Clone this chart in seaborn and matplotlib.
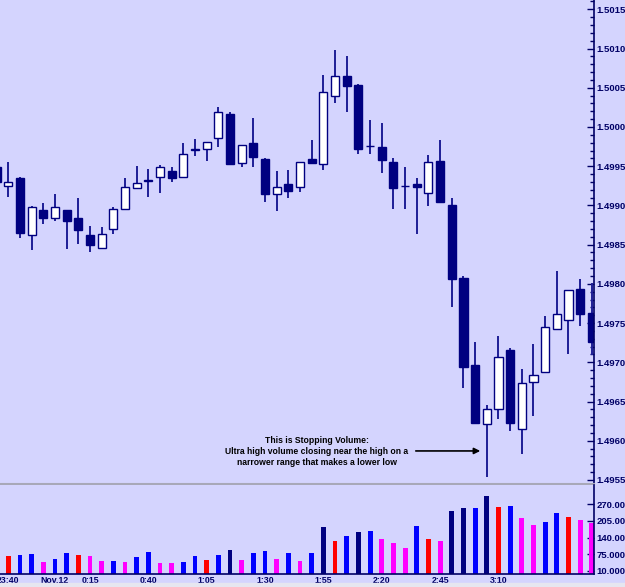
import matplotlib
matplotlib.use("Agg")
import numpy as np
import pandas as pd
import matplotlib.pyplot as plt
from matplotlib.ticker import MultipleLocator, FormatStrFormatter, FixedLocator
import seaborn as sns

# ---- data: 5-minute bars, index 0 = 23:40 ----
bar_idx = list(range(-1, 51))
opens = [1.49949, 1.49925, 1.49935, 1.49862, 1.49894, 1.49884, 1.49894, 1.49884, 1.49862, 1.49846,
         1.49870, 1.49896, 1.49922, 1.49931, 1.49936, 1.49944, 1.49936, 1.49971, 1.49972, 1.49986,
         1.50016, 1.49954, 1.49979, 1.49959, 1.49915, 1.49927, 1.49923, 1.49959, 1.49953, 1.50040,
         1.50065, 1.50054, 1.49976, 1.49975, 1.49956, 1.49925, 1.49927, 1.49916, 1.49957, 1.49901,
         1.49807, 1.49697, 1.49621, 1.49640, 1.49716, 1.49615, 1.49675, 1.49688, 1.49742, 1.49754,
         1.49793, 1.49763]
closes = [1.49930, 1.49930, 1.49865, 1.49898, 1.49884, 1.49898, 1.49880, 1.49869, 1.49850, 1.49864,
          1.49895, 1.49924, 1.49929, 1.49932, 1.49949, 1.49935, 1.49966, 1.49972, 1.49981, 1.50019,
          1.49953, 1.49977, 1.49962, 1.49914, 1.49923, 1.49918, 1.49956, 1.49954, 1.50045, 1.50065,
          1.50052, 1.49972, 1.49976, 1.49958, 1.49922, 1.49925, 1.49923, 1.49955, 1.49904, 1.49806,
          1.49694, 1.49623, 1.49641, 1.49707, 1.49622, 1.49674, 1.49684, 1.49745, 1.49762, 1.49792,
          1.49762, 1.49726]
highs = [1.49958, 1.49955, 1.49936, 1.49899, 1.49903, 1.49914, 1.49894, 1.49909, 1.49874, 1.49872,
         1.49898, 1.49935, 1.49950, 1.49946, 1.49952, 1.49949, 1.49979, 1.49985, 1.49981, 1.50025,
         1.50019, 1.49977, 1.50012, 1.49960, 1.49944, 1.49945, 1.49956, 1.49983, 1.50066, 1.50098,
         1.50090, 1.50055, 1.50009, 1.50005, 1.49960, 1.49949, 1.49935, 1.49964, 1.49983, 1.49909,
         1.49810, 1.49726, 1.49646, 1.49734, 1.49718, 1.49692, 1.49723, 1.49759, 1.49817, 1.49792,
         1.49806, 1.49801]
lows = [1.49926, 1.49911, 1.49859, 1.49843, 1.49876, 1.49880, 1.49844, 1.49851, 1.49841, 1.49845,
        1.49864, 1.49895, 1.49921, 1.49911, 1.49916, 1.49930, 1.49935, 1.49963, 1.49957, 1.49975,
        1.49951, 1.49949, 1.49949, 1.49904, 1.49893, 1.49910, 1.49917, 1.49954, 1.49945, 1.50030,
        1.50019, 1.49966, 1.49965, 1.49941, 1.49896, 1.49896, 1.49863, 1.49899, 1.49904, 1.49771,
        1.49667, 1.49623, 1.49554, 1.49628, 1.49612, 1.49583, 1.49631, 1.49688, 1.49742, 1.49710,
        1.49746, 1.49709]

vol_idx = list(range(0, 51))
volumes = [68, 72, 76, 45, 57, 79, 72, 68, 48, 49,
           45, 66, 83, 42, 42, 45, 67, 54, 72, 91,
           53, 80, 88, 58, 78, 48, 79, 183, 126, 145,
           163, 166, 134, 117, 100, 185, 134, 126, 244, 255,
           256, 301, 261, 262, 218, 190, 200, 237, 221, 209,
           197]
# r = red, b = blue, n = navy, m = magenta
vol_kind = list("rbbmbbrmmbmbbmmbbrbnmbbmbmbnrbnbmmmbrmnnbnrbmmbbrmm")

time_ticks = [0, 4, 7, 12, 17, 22, 27, 32, 37, 42]
time_labels = ["23:40", "Nov.12", "0:15", "0:40", "1:05", "1:30", "1:55", "2:20", "2:45", "3:10"]
vol_ticks = [10, 75, 140, 205, 270]

note = ("This is Stopping Volume:\n"
        "Ultra high volume closing near the high on a\n"
        "narrower range that makes a lower low")

# ---- style ----
BG = "#d4d4fe"
NAVY = "#000080"
AXC = "#000066"
sns.set_style("white")
plt.rcParams["font.family"] = ["Liberation Sans", "DejaVu Sans"]

W, H = 625, 587
fig = plt.figure(figsize=(W / 100, H / 100), dpi=100, facecolor=BG)
ax_p = fig.add_axes([0, 1 - 483.5 / H, 594 / W, 483.5 / H])
ax_v = fig.add_axes([0, 1 - 573.5 / H, 594 / W, 89 / H])

# ---- price candles ----
df = pd.DataFrame({"i": bar_idx, "o": opens, "c": closes, "h": highs, "l": lows})
df["up"] = df["c"] >= df["o"]
ax_p.vlines(df["i"], df["l"], df["h"], color="#1e1e96", lw=1.4, zorder=1)
up = df[df["up"]]
dn = df[~df["up"]]
ax_p.bar(up["i"], up["c"] - up["o"], bottom=up["o"], width=0.7,
         color="white", edgecolor=NAVY, lw=1.0, zorder=2)
ax_p.bar(dn["i"], dn["c"] - dn["o"], bottom=dn["o"], width=0.7,
         color=NAVY, edgecolor=NAVY, lw=1.0, zorder=2)

ax_p.set_facecolor(BG)
ax_p.set_xlim(-0.711, 50.19)
ax_p.set_ylim(1.495455, 1.501619)
ax_p.yaxis.tick_right()
ax_p.yaxis.set_major_locator(MultipleLocator(0.0005))
ax_p.yaxis.set_minor_locator(MultipleLocator(0.0001))
ax_p.yaxis.set_major_formatter(FormatStrFormatter("%.5f"))
ax_p.tick_params(axis="y", which="major", direction="in", length=5, width=1, color=AXC,
                 labelsize=6.8, labelcolor=AXC, pad=2)
ax_p.tick_params(axis="y", which="minor", direction="in", length=3, width=1, color=AXC)
for lab in ax_p.get_yticklabels():
    lab.set_fontweight("bold")
ax_p.set_xticks([])
for s in ["top", "left"]:
    ax_p.spines[s].set_visible(False)
ax_p.spines["right"].set_color(AXC)
ax_p.spines["right"].set_linewidth(1.2)
ax_p.spines["bottom"].set_color("#a8a8b8")
ax_p.spines["bottom"].set_linewidth(1.5)

ax_p.annotate("", xy=(40.68, 1.49587), xytext=(34.68, 1.49587),
              arrowprops=dict(arrowstyle="-|>", color="black", lw=1.2, mutation_scale=9))
ax_p.text(26.45, 1.49586, note, ha="center", va="center", multialignment="center",
          fontsize=6.2, fontweight="bold", color="black", linespacing=1.25)

# ---- volume ----
vdf = pd.DataFrame({"i": vol_idx, "vol": volumes, "kind": vol_kind})
palette = {"r": "#ff0000", "b": "#0000ff", "n": NAVY, "m": "#ff00ff"}
sns.barplot(data=vdf, x="i", y="vol", hue="kind", palette=palette, native_scale=True,
            dodge=False, width=0.42, saturation=1, errorbar=None, legend=False,
            linewidth=0, ax=ax_v)
ax_v.set_facecolor(BG)
ax_v.set_xlim(-0.711, 50.19)
ax_v.set_ylim(0, 347)
ax_v.set_xlabel("")
ax_v.set_ylabel("")
ax_v.yaxis.tick_right()
ax_v.yaxis.set_major_locator(FixedLocator(vol_ticks))
ax_v.yaxis.set_major_formatter(FormatStrFormatter("%.4f"))
ax_v.set_xticks(time_ticks)
ax_v.set_xticklabels(time_labels)
ax_v.tick_params(axis="y", direction="in", length=5, width=1, color=AXC,
                 labelsize=6.8, labelcolor=AXC, pad=2)
ax_v.tick_params(axis="x", direction="in", length=2.5, width=1, color=AXC,
                 labelsize=6.3, labelcolor=AXC, pad=2)
for lab in ax_v.get_yticklabels() + ax_v.get_xticklabels():
    lab.set_fontweight("bold")
for s in ["top", "left"]:
    ax_v.spines[s].set_visible(False)
for s in ["right", "bottom"]:
    ax_v.spines[s].set_color(AXC)
    ax_v.spines[s].set_linewidth(1.2)

# pale strip at the very bottom
fig.patches.append(plt.Rectangle((0, 0), 1, 4 / H, transform=fig.transFigure,
                                 color="#e6e6f0", zorder=0))

fig.savefig("out.png", dpi=100, facecolor=BG)
